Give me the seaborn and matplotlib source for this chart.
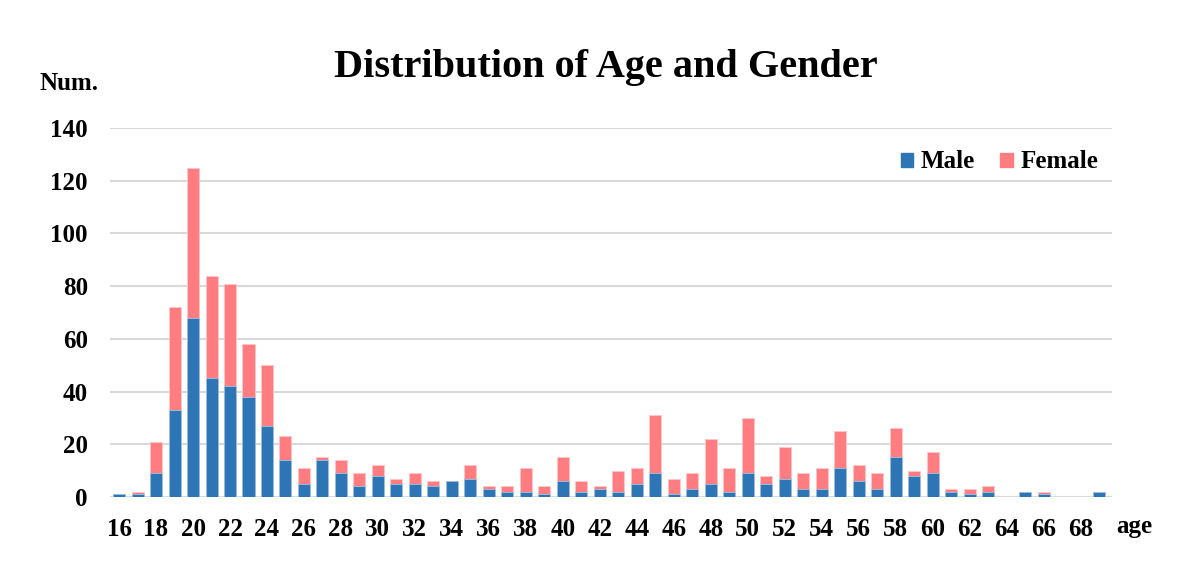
import matplotlib
matplotlib.use("Agg")
import matplotlib.pyplot as plt
from matplotlib.patches import Patch
import seaborn as sns
import pandas as pd

ages = list(range(16, 70))
male = [1, 1, 9, 33, 68, 45, 42, 38, 27, 14,
        5, 14, 9, 4, 8, 5, 5, 4, 6, 7,
        3, 2, 2, 1, 6, 2, 3, 2, 5, 9,
        1, 3, 5, 2, 9, 5, 7, 3, 3, 11,
        6, 3, 15, 8, 9, 2, 1, 2, 0, 2,
        1, 0, 0, 2]
female = [0, 1, 12, 39, 57, 39, 39, 20, 23, 9,
          6, 1, 5, 5, 4, 2, 4, 2, 0, 5,
          1, 2, 9, 3, 9, 4, 1, 8, 6, 22,
          6, 6, 17, 9, 21, 3, 12, 6, 8, 14,
          6, 6, 11, 2, 8, 1, 2, 2, 0, 0,
          1, 0, 0, 0]
y_ticks = [0, 20, 40, 60, 80, 100, 120, 140]
x_tick_labels = [str(a) for a in range(16, 69, 2)]

title = "Distribution of Age and Gender"
male_color = "#2E75B6"
female_color = "#FF7C80"

df = pd.DataFrame({"age": [str(a) for a in ages], "male": male, "female": female})
df["total"] = df["male"] + df["female"]

sns.set_theme(style="white")
plt.rcParams["font.family"] = ["Liberation Serif", "DejaVu Serif"]
plt.rcParams["font.weight"] = "bold"
plt.rcParams["text.color"] = "black"
plt.rcParams["xtick.color"] = "black"
plt.rcParams["ytick.color"] = "black"

fig = plt.figure(figsize=(11.85, 5.67), dpi=100)
ax = fig.add_axes([110 / 1185, 1 - 497 / 567, (1112 - 110) / 1185, (497 - 128) / 567])

sns.barplot(data=df, x="age", y="total", color=female_color, saturation=1,
            width=0.65, ax=ax, edgecolor="#FFC7C8", linewidth=0.6, zorder=3)
sns.barplot(data=df, x="age", y="male", color=male_color, saturation=1,
            width=0.65, ax=ax, edgecolor="#9DC3E6", linewidth=0.6, zorder=4)

ax.set_ylim(0, 140)
ax.set_xlim(-0.49, 53.7)
ax.set_yticks(y_ticks)
ax.set_yticklabels([str(v) for v in y_ticks], fontsize=18, fontweight="bold", color="black")
ax.set_xticks(range(0, 54, 2))
ax.set_xticklabels(x_tick_labels, fontsize=18, fontweight="bold", color="black")
ax.tick_params(axis="both", length=0)
ax.tick_params(axis="y", pad=16)
ax.tick_params(axis="x", pad=15)
ax.grid(axis="y", color="#D9D9D9", linewidth=1.5, zorder=0)
ax.set_axisbelow(True)
for s in ax.spines.values():
    s.set_visible(False)
ax.set_xlabel("")
ax.set_ylabel("")

fig.text(606 / 1185, 1 - 67 / 567, title, ha="center", va="center",
         fontsize=29, fontweight="bold", color="black")
fig.text(69 / 1185, 1 - 83 / 567, "Num.", ha="center", va="center",
         fontsize=18, fontweight="bold", color="black")
fig.text(1134 / 1185, 1 - 527 / 567, "age", ha="center", va="center",
         fontsize=18, fontweight="bold", color="black")

handles = [Patch(color=male_color, label="Male"), Patch(color=female_color, label="Female")]
leg = ax.legend(handles=handles, loc="center right", bbox_to_anchor=(1098 / 1185, 1 - 162 / 567),
                bbox_transform=fig.transFigure, ncol=2, frameon=False,
                prop={"size": 18, "weight": "bold"}, handlelength=0.5, handleheight=0.5,
                handletextpad=0.3, columnspacing=1.0, borderaxespad=0, borderpad=0)
for t in leg.get_texts():
    t.set_color("black")

fig.savefig("out.png", dpi=100, facecolor="white")
